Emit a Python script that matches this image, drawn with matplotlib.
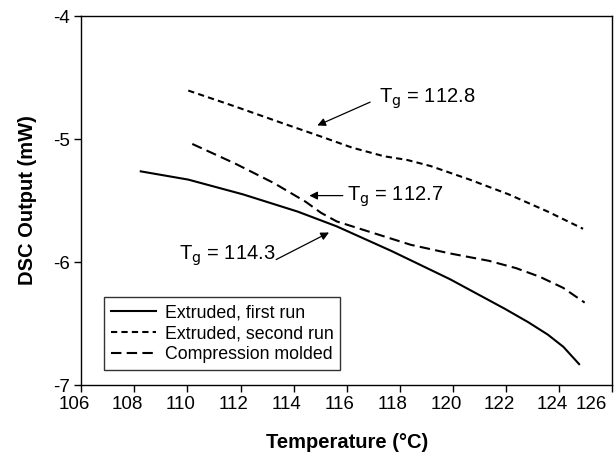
import matplotlib
matplotlib.use("Agg")
import matplotlib.pyplot as plt
import matplotlib.transforms as mtransforms

plt.rcParams['font.family'] = ['Liberation Sans', 'DejaVu Sans']
plt.rcParams['axes.unicode_minus'] = False
plt.rcParams['lines.scale_dashes'] = False

# Extruded, first run (solid)
x_first = [108.24, 110.03, 112.09, 114.15, 115.62, 117.68, 119.89, 121.95, 122.84, 123.57, 124.16, 124.75]
y_first = [-5.263, -5.33, -5.45, -5.59, -5.71, -5.91, -6.14, -6.38, -6.49, -6.59, -6.69, -6.83]

# Extruded, second run (short dash)
x_second = [110.03, 111.8, 113.56, 115.03, 116.2, 117.4, 118.27, 119.16, 120.63, 122.1, 123.57, 124.9]
y_second = [-4.606, -4.736, -4.87, -4.98, -5.07, -5.14, -5.17, -5.22, -5.33, -5.45, -5.59, -5.73]

# Compression molded (long dash)
x_comp = [110.18, 111.8, 113.27, 114.45, 115.03, 115.62, 116.94, 118.41, 119.88, 121.35, 122.38, 123.27, 124.15, 124.96]
y_comp = [-5.04, -5.20, -5.36, -5.51, -5.60, -5.67, -5.76, -5.86, -5.93, -5.99, -6.05, -6.12, -6.21, -6.33]

labels = ["Extruded, first run", "Extruded, second run", "Compression molded"]
x_ticks = [106, 108, 110, 112, 114, 116, 118, 120, 122, 124, 126]
y_ticks = [-4, -5, -6, -7]

fig = plt.figure(figsize=(6.14, 4.55), dpi=100)
ax = fig.add_axes([0.1324, 0.1538, 0.8648, 0.811])

lw = 1.5
ax.plot(x_first, y_first, color='black', lw=lw, label=labels[0])
ax.plot(x_second, y_second, color='black', lw=lw, dashes=(4.5, 3.0), label=labels[1])
ax.plot(x_comp, y_comp, color='black', lw=lw, dashes=(7.5, 3.8), label=labels[2])

ax.set_xlim(106, 126)
ax.set_ylim(-7, -4)
ax.set_xticks(x_ticks)
ax.set_yticks(y_ticks)
ax.set_yticklabels([str(v) for v in y_ticks])
ax.tick_params(direction='out', length=5, width=1, labelsize=13.5, pad=3)
for s in ax.spines.values():
    s.set_linewidth(1.0)

# shift x tick labels slightly left as in the reference; keep last inside
labs = ax.get_xticklabels()
for i, t in enumerate(labs):
    dx = -5 / 72 if i < len(labs) - 1 else -15 / 72
    t.set_transform(t.get_transform() + mtransforms.ScaledTranslation(dx, 0, fig.dpi_scale_trans))

ax.set_xlabel("Temperature (°C)", fontsize=14.5, fontweight='bold', labelpad=14)
ax.set_ylabel("DSC Output (mW)", fontsize=14.5, fontweight='bold', labelpad=12)

arrow = dict(arrowstyle='-|>', color='black', lw=0.9, mutation_scale=12, shrinkA=0, shrinkB=0)
ax.annotate("", xy=(114.89, -4.89), xytext=(116.88, -4.70), arrowprops=arrow)
ax.text(117.2, -4.67, r"T$_\mathrm{g}$ = 112.8", fontsize=14.5, va='center', ha='left')
ax.annotate("", xy=(114.59, -5.46), xytext=(115.85, -5.46), arrowprops=arrow)
ax.text(116.0, -5.47, r"T$_\mathrm{g}$ = 112.7", fontsize=14.5, va='center', ha='left')
ax.annotate("", xy=(115.33, -5.76), xytext=(113.34, -5.98), arrowprops=arrow)
ax.text(113.3, -5.95, r"T$_\mathrm{g}$ = 114.3", fontsize=14.5, va='center', ha='right')

leg = ax.legend(loc='lower left', bbox_to_anchor=(0.043, 0.04), fontsize=12.8,
                frameon=True, fancybox=False, edgecolor='black', handlelength=2.5,
                handletextpad=0.5, labelspacing=0.22, borderpad=0.4, borderaxespad=0)
leg.get_frame().set_linewidth(1.0)

fig.savefig("out.png", dpi=100)
